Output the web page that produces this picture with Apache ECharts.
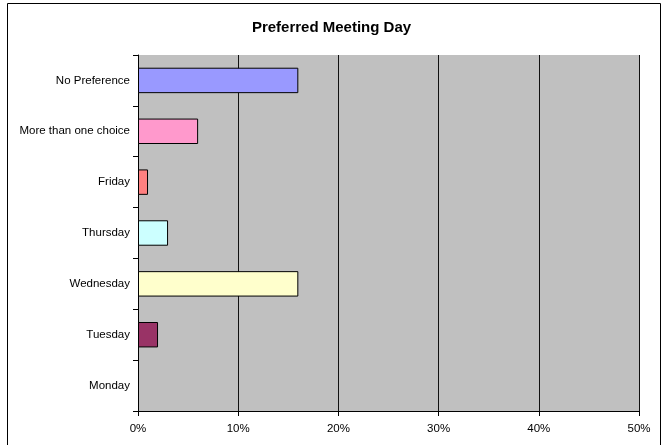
<!DOCTYPE html>
<html>
<head>
<meta charset="utf-8">
<script src="https://cdn.jsdelivr.net/npm/echarts@6/dist/echarts.min.js"></script>
<style>
html,body{margin:0;padding:0;background:#fff;}
#chart{width:663px;height:445px;}
</style>
</head>
<body>
<div id="chart"></div>
<script>
const categories = ['Monday', 'Tuesday', 'Wednesday', 'Thursday', 'Friday', 'More than one choice', 'No Preference'];
const values = [0, 2, 16, 3, 1, 6, 16];
const barColors = ['#FFFFFF', '#993366', '#FFFFCC', '#CCFFFF', '#FF8080', '#FF99CC', '#9999FF'];
const xTicks = { min: 0, max: 50, interval: 10 };
const title = 'Preferred Meeting Day';

const chart = echarts.init(document.getElementById('chart'), null, { renderer: 'canvas' });
chart.setOption({
  animation: false,
  backgroundColor: '#fff',
  title: {
    text: title,
    left: 'center',
    top: 15,
    textStyle: { fontFamily: 'Liberation Sans, Arial', fontSize: 15, fontWeight: 'bold', color: '#000' }
  },
  graphic: [{
    type: 'rect',
    shape: { x: 7.5, y: 3.5, width: 653, height: 450 },
    style: { fill: 'none', stroke: '#000', lineWidth: 1 },
    silent: true,
    z: 100
  }],
  grid: {
    left: 138, right: 24, top: 55, bottom: 34,
    show: true, backgroundColor: '#C0C0C0', borderWidth: 0
  },
  xAxis: {
    type: 'value',
    min: xTicks.min, max: xTicks.max, interval: xTicks.interval,
    axisLine: { show: true, lineStyle: { color: '#000', width: 1 } },
    axisTick: { show: true, length: 5, lineStyle: { color: '#000' } },
    axisLabel: { formatter: '{value}%', color: '#000', fontFamily: 'Liberation Sans, Arial', fontSize: 11.5, margin: 12 },
    splitLine: { show: true, lineStyle: { color: '#111', width: 1 } }
  },
  yAxis: {
    type: 'category',
    data: categories,
    axisLine: { show: true, lineStyle: { color: '#000', width: 1 } },
    axisTick: { show: true, length: 5, lineStyle: { color: '#000' } },
    axisLabel: { color: '#000', fontFamily: 'Liberation Sans, Arial', fontSize: 11.5, margin: 8 },
    splitLine: { show: false }
  },
  series: [{
    type: 'bar',
    data: values.map((v, i) => ({
      value: v,
      itemStyle: { color: barColors[i], borderColor: '#000', borderWidth: v === 0 ? 0 : 1 }
    })),
    barCategoryGap: '50%'
  }]
});
</script>
</body>
</html>
